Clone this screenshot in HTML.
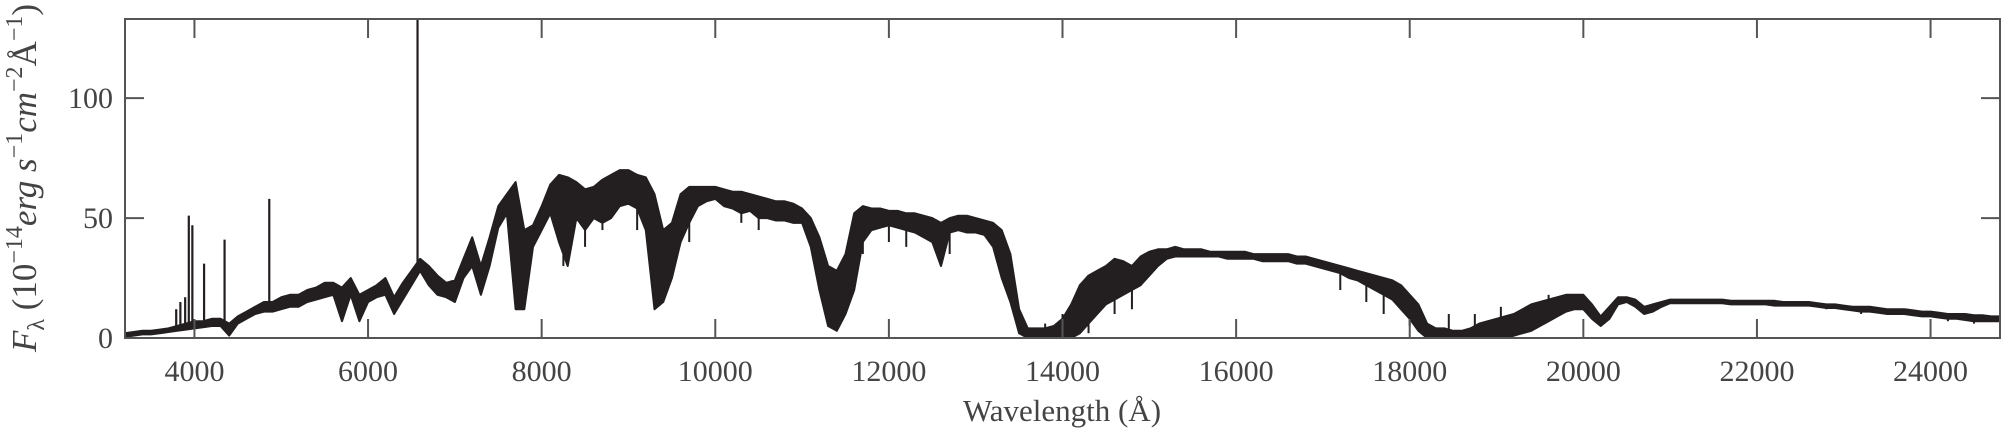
<!DOCTYPE html>
<html><head><meta charset="utf-8"><style>
html,body{margin:0;padding:0;background:#fff;}
svg{display:block;}
text{font-family:"Liberation Serif",serif;fill:#444;}
</style></head><body>
<svg id="chart" width="2001" height="428" viewBox="0 0 2001 428" xmlns="http://www.w3.org/2000/svg">
<g id="plot"></g>
<g id="axes"></g>
<text x="1062" y="421" font-size="31" text-anchor="middle">Wavelength (Å)</text>
<text transform="translate(36,178) rotate(-90)" font-size="35" text-anchor="middle"><tspan font-style="italic">F</tspan><tspan font-size="24" dy="8">λ</tspan><tspan dy="-8"> (10</tspan><tspan font-size="24" dy="-14">−14</tspan><tspan font-style="italic" dy="14">erg s</tspan><tspan font-size="24" dy="-14">−1</tspan><tspan font-style="italic" dy="14">cm</tspan><tspan font-size="24" dy="-14">−2</tspan><tspan dy="14">Å</tspan><tspan font-size="24" dy="-14">−1</tspan><tspan dy="14">)</tspan></text>
</svg>
<script>
const wlStart = 3200;
const wlStep = 100;
const fluxUpper = [
2,2.5,3,3,3.5,4,5,6,
7,7,8,8,6,9,11,13,15,15,
17,18,18,20,21,23,23,21,25,18,
20,22,25,17,23,28,33,30,26,23,
24,33,42,30,42,55,60,65,45,47,
55,64,68,67,65,62,63,66,68,70,
70,68,67,60,45,48,60,63,63,63,
63,62,61,61,60,59,58,57,57,56,
54,50,42,30,28,35,52,55,54,54,
53,53,52,52,51,50,48,50,51,51,
50,49,48,45,35,12,4,4,4,5,
8,14,22,26,28,30,33,32,30,34,
36,37,37,38,37,37,37,36,36,36,
36,36,35,35,35,35,35,34,34,33,
32,31,30,29,28,27,26,25,24,22,
18,14,6,4,4,3,3,4,6,7,
8,9,10,12,14,15,16,17,18,18,
18,14,9,13,17,17,16,13,14,15,
16,16,16,16,16,16,16,15.5,15.5,15.5,
15.5,15.5,15.5,15,15,15,15,14.5,14,14,
13.5,13,13,13,12.5,12,12,12,11.5,11,
11,10.5,10,10,10,9.5,9.5,9,9];
const fluxLower = [
0.5,1,1.5,1.5,2,2.5,3,3.5,
4,4.5,5,5,1,6,8,10,11,11,
12,13,13,15,16,17,18,7,18,7,
15,17,18,10,16,22,28,22,18,17,
15,25,30,18,30,46,52,12,12,38,
45,52,40,30,50,45,50,48,50,55,
56,54,45,12,15,25,40,48,55,57,
58,55,54,52,53,50,50,49,49,48,
48,38,20,5,3,10,20,40,45,46,
47,46,45,44,42,40,30,44,45,44,
44,43,38,25,15,2,0,0,0,0,
0,0,2,6,10,14,16,18,20,22,
26,30,33,34,34,34,34,34,34,33,
33,33,33,32,32,32,32,31,31,30,
29,28,27,25,24,22,20,18,16,12,
8,3,0,0,0,0,0,0,0,0,
0,0,1,2,3,5,7,9,11,12,
12,8,5,8,14,15,13,10,11,13,
14.5,14.5,14.5,14.5,14.5,14.5,14.5,14,14,14,
14,14,13.5,13.5,13.5,13.5,13.5,13,12.5,12.5,
12,11.5,11,11,10.5,10,10,10,9.5,9,
9,8.5,8,8,7.5,7,7,7,7];
const lineWl = [3790,3838,3893,3935,3976,4111,4347,4862,6570];
const linePeak = [12,15,17,51,47,31,41,58,134];
const dipWl = [8250,8500,8700,9100,9700,10300,10500,10800,11700,12000,12200,12700,13250,13400,14100,14300,14600,14800,15050,17200,17500,17700,18000,19100,19300,22800,23200,24200,24500];
const dipFlux = [30,38,45,45,40,48,45,50,35,40,38,35,38,30,5,2,10,12,28,20,15,10,5,3,5,12,10,7,6];
const peakWl = [13800,14000,14200,14500,14700,18450,18750,19050,19600];
const peakFlux = [6,10,14,24,30,10,10,13,18];
const xTicks = [4000,6000,8000,10000,12000,14000,16000,18000,20000,22000,24000];
const yTicks = [0,50,100];

const L=125,R=2000,T=19,B=338, xMin=3200,xMax=24800,yMin=0,yMax=133;
const X=w=>L+(w-xMin)/(xMax-xMin)*(R-L);
const Y=v=>B-(v-yMin)/(yMax-yMin)*(B-T);
const NS='http://www.w3.org/2000/svg';
const plot=document.getElementById('plot'), axes=document.getElementById('axes');
function mk(tag,attrs,parent){const e=document.createElementNS(NS,tag);for(const k in attrs)e.setAttribute(k,attrs[k]);parent.appendChild(e);return e;}
function interp(arr,w){const idx=(w-wlStart)/wlStep,a=Math.max(0,Math.min(arr.length-1,Math.floor(idx))),b=Math.min(arr.length-1,a+1),f=idx-a;return arr[a]+(arr[b]-arr[a])*f;}

const clip=mk('clipPath',{id:'clp'},plot);mk('rect',{x:L,y:T,width:R-L,height:B-T},clip);
const g=mk('g',{'clip-path':'url(#clp)'},plot);
let pts=[];
for(let i=0;i<fluxUpper.length;i++)pts.push(X(wlStart+i*wlStep).toFixed(1)+','+Y(fluxUpper[i]).toFixed(1));
for(let i=fluxLower.length-1;i>=0;i--)pts.push(X(wlStart+i*wlStep).toFixed(1)+','+Y(fluxLower[i]).toFixed(1));
const band=mk('polygon',{points:pts.join(' '),fill:'#231f20',stroke:'#231f20','stroke-width':2,'stroke-linejoin':'round'},g);


for(let i=0;i<dipWl.length;i++){
  const ln=mk('line',{x1:X(dipWl[i]),x2:X(dipWl[i]),y1:Y(interp(fluxLower,dipWl[i])),y2:Y(dipFlux[i]),stroke:'#231f20','stroke-width':2},g);
  
  
}
for(let i=0;i<peakWl.length;i++){
  const ln=mk('line',{x1:X(peakWl[i]),x2:X(peakWl[i]),y1:Y(interp(fluxUpper,peakWl[i])),y2:Y(peakFlux[i]),stroke:'#231f20','stroke-width':2},g);
  
  
}
for(let i=0;i<lineWl.length;i++){
  const ln=mk('line',{x1:X(lineWl[i]),x2:X(lineWl[i]),y1:Y(interp(fluxLower,lineWl[i])),y2:Y(linePeak[i]),stroke:'#231f20','stroke-width':2.2},g);
  
  
}
const frame=mk('rect',{x:L,y:T,width:R-L,height:B-T,fill:'none',stroke:'#555','stroke-width':2},axes);


xTicks.forEach(t=>{
  const x=X(t);
  mk('line',{x1:x,x2:x,y1:B,y2:B-19,stroke:'#555','stroke-width':2},axes);
  mk('line',{x1:x,x2:x,y1:T,y2:T+19,stroke:'#555','stroke-width':2},axes);
  const tx=mk('text',{x:x,y:381,'font-size':30,'text-anchor':'middle'},axes);
  tx.textContent=t;
  
  
});
yTicks.forEach(t=>{
  const y=Y(t);
  mk('line',{x1:L,x2:L+19,y1:y,y2:y,stroke:'#555','stroke-width':2},axes);
  mk('line',{x1:R,x2:R-19,y1:y,y2:y,stroke:'#555','stroke-width':2},axes);
  const tx=mk('text',{x:L-12,y:y+10,'font-size':30,'text-anchor':'end'},axes);
  tx.textContent=t;
  
  
});
</script>
</body></html>
